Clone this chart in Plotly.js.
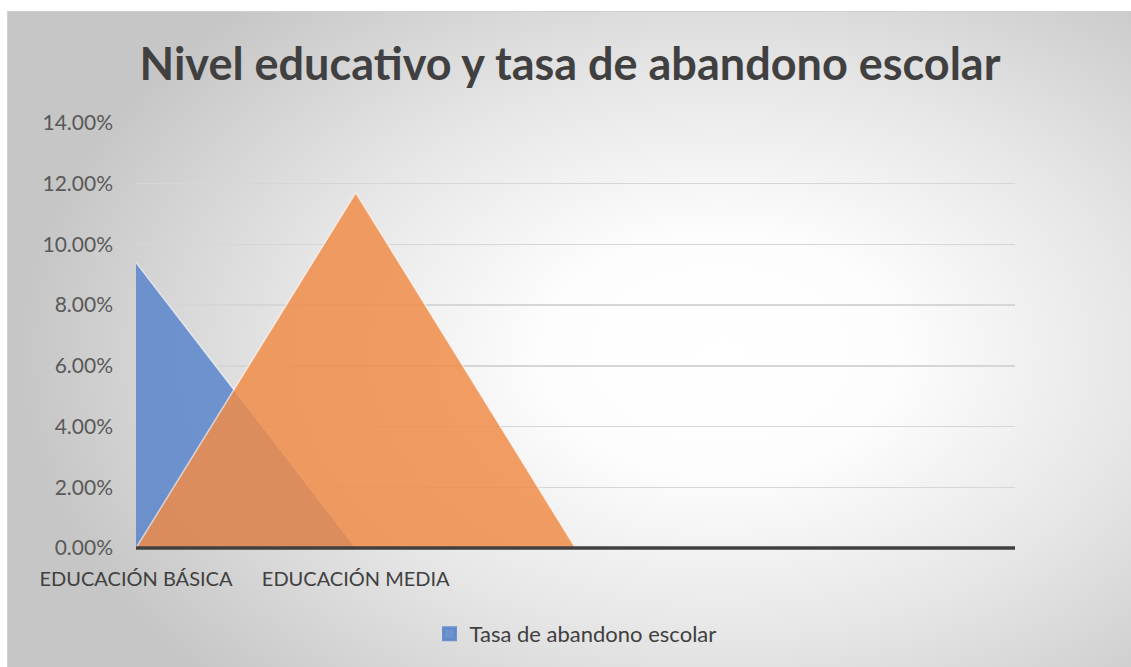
<!DOCTYPE html>
<html>
<head>
<meta charset="utf-8">
<script src="https://cdn.plot.ly/plotly-3.0.1.min.js"></script>
<style>
html, body { margin: 0; padding: 0; background: #ffffff; width: 1131px; height: 667px; overflow: hidden; }
#frame {
  position: absolute; left: 7px; top: 11px; width: 1130px; height: 660px;
  border-left: 1px solid #d0d0d0; border-top: 1px solid #d0d0d0;
  background: radial-gradient(ellipse 62% 72% at 63% 52%, #ffffff 0%, #fdfdfd 25%, #e6e6e6 60%, #c6c6c6 100%);
}
#chart { position: absolute; left: 0; top: 0; width: 1124px; height: 656px; }
</style>
</head>
<body>
<div id="frame"><div id="chart"></div></div>
<script>
var categories = ["EDUCACIÓN BÁSICA", "EDUCACIÓN MEDIA", " ", "  ", "   "];
var tasaAbandono = [0.094, 0, 0, 0, 0];
var serieNaranja = [0, 0.117, 0, 0, 0];
var yTicks = [0, 0.02, 0.04, 0.06, 0.08, 0.10, 0.12, 0.14];

var font = "Lato, 'Open Sans', sans-serif";

var traces = [
  {
    x: categories, y: tasaAbandono, type: "scatter", mode: "lines",
    fill: "tozeroy", fillcolor: "rgba(89,133,202,0.85)",
    line: { color: "rgba(255,255,255,0.6)", width: 1.5 },
    name: "Tasa de abandono escolar", showlegend: false, hoverinfo: "skip"
  },
  {
    x: categories, y: serieNaranja, type: "scatter", mode: "lines",
    fill: "tozeroy", fillcolor: "rgba(238,140,73,0.85)",
    line: { color: "rgba(255,255,255,0.6)", width: 1.5 },
    name: "", showlegend: false, hoverinfo: "skip"
  },
  {
    x: [categories[0]], y: [null], type: "bar",
    marker: { color: "rgba(89,133,202,0.85)", line: { width: 3, color: "rgba(89,133,202,0.85)" } },
    name: "Tasa de abandono escolar", showlegend: true, hoverinfo: "skip"
  }
];

var layout = {
  width: 1124, height: 656,
  margin: { l: 128, r: 117, t: 111, b: 120 },
  paper_bgcolor: "rgba(0,0,0,0)",
  plot_bgcolor: "rgba(0,0,0,0)",
  title: {
    text: "<b>Nivel educativo y tasa de abandono escolar</b>",
    font: { family: font, size: 45, color: "#404040" },
    x: 0.5, xanchor: "center", y: 0.92, yanchor: "middle"
  },
  xaxis: {
    type: "category", range: [0, 4],
    showgrid: false, zeroline: false,
    showline: false, ticks: "",
    tickfont: { family: font, size: 20, color: "#404040" },
    ticklabelstandoff: 17
  },
  yaxis: {
    range: [0, 0.14], tickvals: yTicks, tickformat: ".2%",
    showgrid: true, gridcolor: "#d6d6d6", gridwidth: 1.3,
    zeroline: false,
    showline: false, ticks: "",
    tickfont: { family: font, size: 21, color: "#595959" },
    ticklabelstandoff: 22,
    layer: "below traces"
  },
  shapes: [
    { type: "line", xref: "paper", yref: "paper", x0: 0, x1: 1, y0: 0, y1: 0,
      line: { color: "#404040", width: 3.5 }, layer: "above" }
  ],
  showlegend: true,
  legend: {
    orientation: "h", x: 0.5, xanchor: "center",
    yref: "container", y: 0.052, yanchor: "middle",
    font: { family: font, size: 22, color: "#404040" },
    bgcolor: "rgba(0,0,0,0)", itemwidth: 30
  }
};

Plotly.newPlot("chart", traces, layout, { displayModeBar: false, staticPlot: true });
</script>
</body>
</html>
